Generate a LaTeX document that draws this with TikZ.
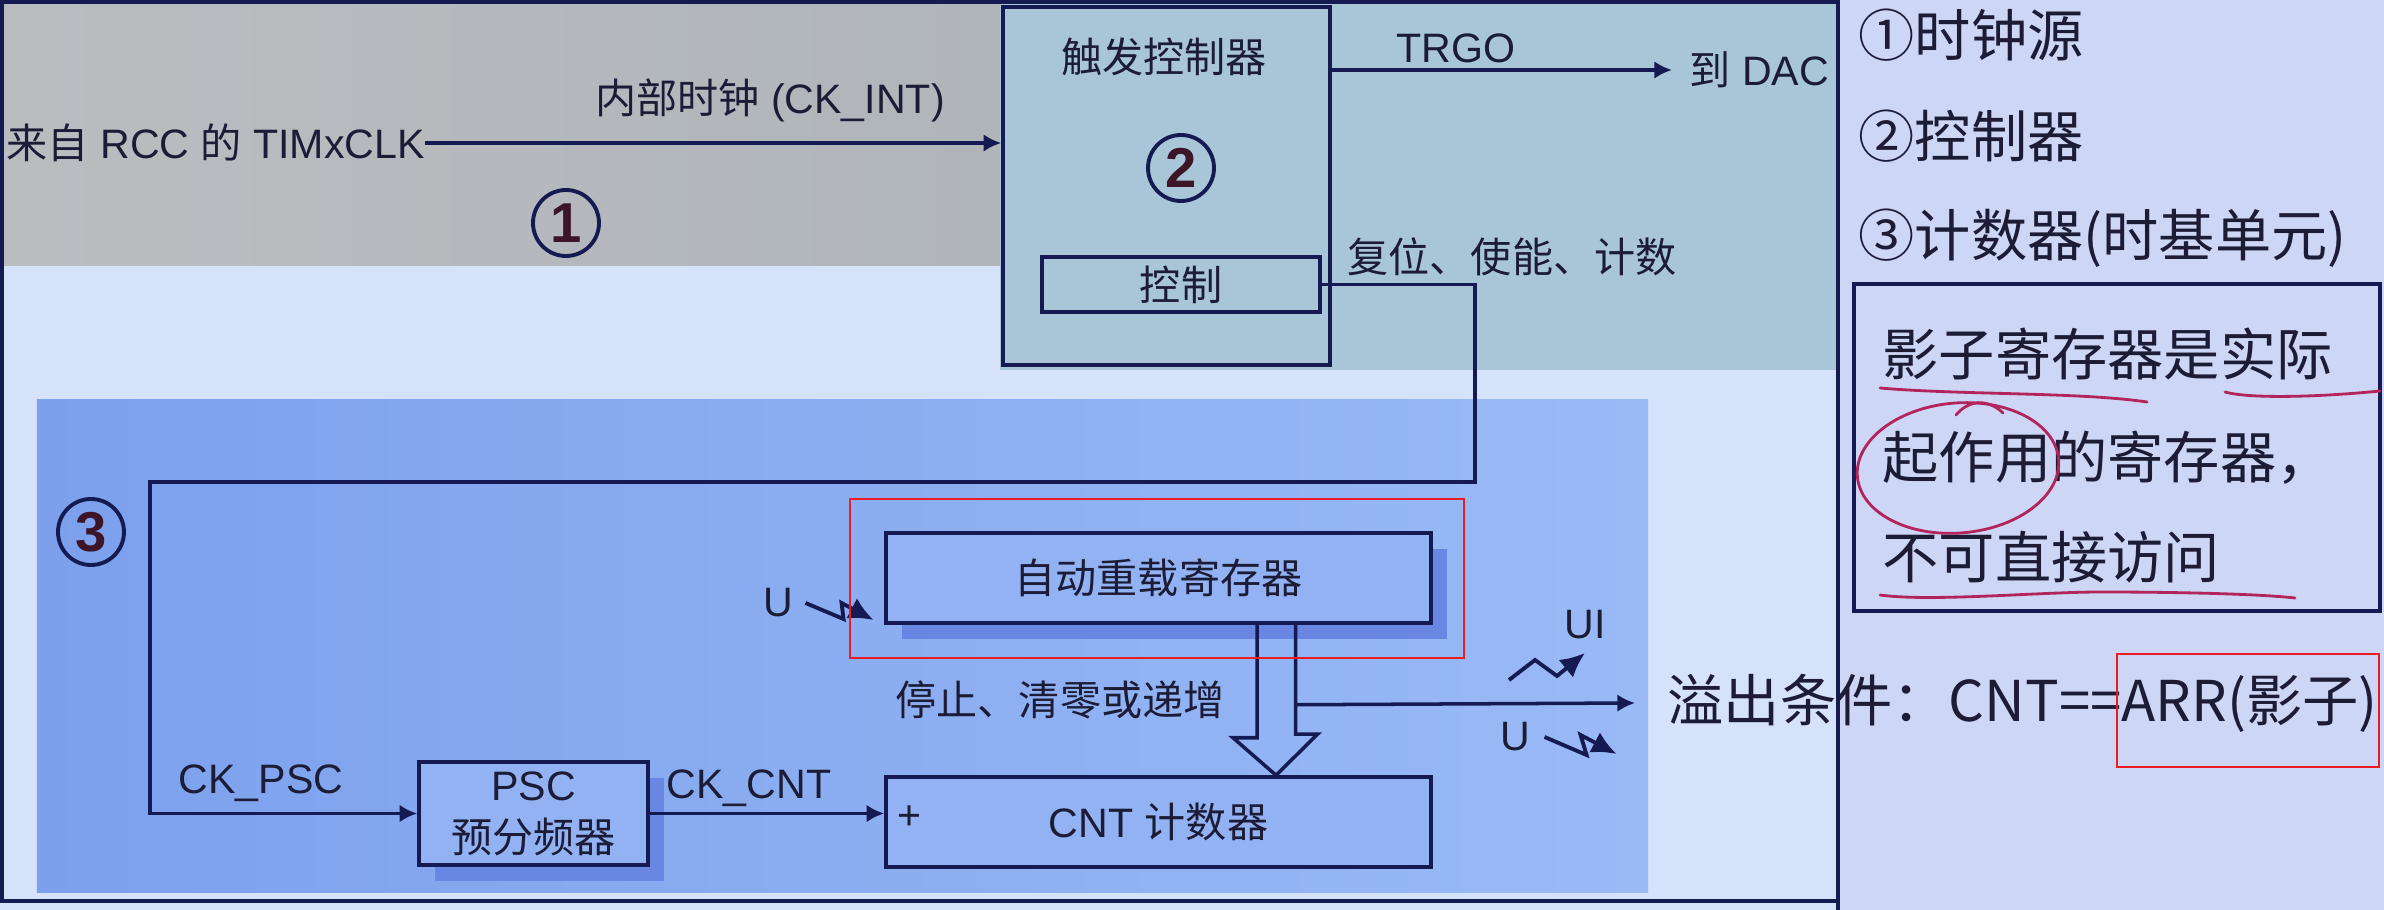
\documentclass[tikz,border=0pt]{standalone}
\usepackage{fontspec}
\setmainfont{Liberation Sans}
\newfontfamily\cjk{Noto Sans CJK SC}
\usetikzlibrary{arrows.meta,shadows}

\definecolor{linec}{RGB}{22,26,82}
\definecolor{txtc}{RGB}{28,28,55}
\definecolor{numtc}{RGB}{60,22,40}
\definecolor{grayL}{RGB}{186,189,192}
\definecolor{grayR}{RGB}{176,181,186}
\definecolor{tealc}{RGB}{168,198,216}
\definecolor{paleb}{RGB}{214,226,250}
\definecolor{lavc}{RGB}{206,214,245}
\definecolor{panelL}{RGB}{124,160,236}
\definecolor{panelR}{RGB}{154,186,246}
\definecolor{boxc}{RGB}{146,178,243}
\definecolor{shadc}{RGB}{104,134,226}
\definecolor{redc}{RGB}{236,28,36}
\definecolor{penc}{RGB}{178,36,92}

\begin{document}
\begin{tikzpicture}[
  >={Latex[length=5pt,width=5pt]},
  lbl/.style={font=\fontsize{11.7}{14.8}\selectfont, text=txtc, inner sep=0pt},
  blk/.style={draw=linec, line width=1pt, fill=boxc, inner sep=0pt},
  shd/.style={drop shadow={shadow xshift=0.16cm, shadow yshift=-0.16cm, fill=shadc, opacity=1}},
  numc/.style={circle, draw=linec, line width=1.1pt, minimum size=0.66cm, inner sep=0pt,
    text=numtc, font=\fontsize{16}{16}\selectfont\bfseries},
  wire/.style={draw=linec, line width=1pt},
  zap/.style={draw=linec, line width=1.1pt, line join=miter, -{Latex[length=7pt,width=6.5pt]}},
  note/.style={font=\cjk\fontsize{16}{18}\selectfont, text=txtc, inner sep=0pt, anchor=west},
  redbox/.style={draw=redc, line width=0.7pt},
  pen/.style={draw=penc, line width=0.8pt, line cap=round}
]
  \useasboundingbox (0,0) rectangle (23.84,-9.10);

  % backgrounds
  \fill[paleb] (0,0) rectangle (18.38,-9.10);
  \fill[lavc] (18.38,0) rectangle (23.84,-9.10);
  \shade[left color=grayL, right color=grayR] (0.02,-0.03) rectangle (10.00,-2.66);
  \fill[tealc] (10.00,-0.03) rectangle (18.36,-3.70);
  \shade[left color=panelL, right color=panelR] (0.37,-4.00) rectangle (16.48,-8.93);
  \draw[linec, line width=1.4pt] (0.02,-0.02) rectangle (18.38,-9.01);

  % section 1: clock source
  \node[lbl, anchor=west] (src) at (0.06,-1.43) {{\cjk 来自} RCC {\cjk 的} TIMxCLK};
  \node[lbl] (intl) at (7.70,-1.00) {{\cjk 内部时钟} (CK\_INT)};
  \node[numc] (n1) at (5.66,-2.23) {1};

  % section 2: trigger controller
  \node[blk, fill=tealc, minimum width=3.27cm, minimum height=3.58cm] (trig) at (11.665,-1.86) {};
  \node[lbl] (trigname) at (11.64,-0.57) {\cjk 触发控制器};
  \node[numc] (n2) at (11.81,-1.68) {2};
  \node[blk, lbl, fill=tealc, minimum width=2.78cm, minimum height=0.55cm] (ctrl) at (11.81,-2.845) {\cjk 控制};
  \node[lbl, anchor=west] (dac) at (16.89,-0.70) {{\cjk 到} DAC};
  \node[lbl] (trgo) at (14.56,-0.48) {TRGO};
  \node[lbl] (rst) at (15.12,-2.57) {\cjk 复位、使能、计数};

  \draw[wire,->] (src.east) -- (src.east -| trig.west);
  \draw[wire,->] (trig.east |- dac.west) -- ([xshift=-0.17cm]dac.west);

  % section 3: time base unit
  \node[numc] (n3) at (0.91,-5.32) {3};
  \node[blk, shd, minimum width=5.45cm, minimum height=0.90cm, lbl] (arr) at (11.585,-5.78) {\cjk 自动重载寄存器};
  \node[blk, shd, minimum width=2.29cm, minimum height=1.03cm, lbl, align=center] (psc) at (5.335,-8.135) {PSC\\{\cjk 预分频器}};
  \node[blk, minimum width=5.45cm, minimum height=0.90cm, lbl] (cnt) at (11.585,-8.22) {CNT {\cjk 计数器}};
  \node[lbl] (plus) at (9.09,-8.18) {+};
  \node[lbl] (ckpsc) at (2.61,-7.83) {CK\_PSC};
  \node[lbl] (ckcnt) at (7.49,-7.88) {CK\_CNT};
  \node[lbl] (stopl) at (10.60,-7.00) {\cjk 停止、清零或递增};
  \node[lbl] (ua) at (7.78,-6.03) {U};
  \node[lbl] (uil) at (15.85,-6.25) {UI};
  \node[lbl] (ub) at (15.15,-7.37) {U};

  \coordinate (bendA) at (14.75,-4.82);
  \coordinate (bendB) at (1.50,-4.82);
  \coordinate (ovf) at (16.35,-7.03);
  \draw[wire,->] (ctrl.east) -| (bendA) -- (bendB) |- (psc.west);
  \draw[wire,->] (psc.east) -- (psc.east -| cnt.west);
  \draw[wire, line join=miter] ([xshift=0.985cm]arr.south) |- ++(-0.24,-1.13)
    -- ([xshift=1.175cm]cnt.north) -- ++(0.415,0.41) -- ++(-0.22,0) |- ([xshift=1.365cm]arr.south);
  \draw[wire,->] ([xshift=1.365cm,yshift=-0.80cm]arr.south) -- (ovf);

  % update / interrupt events
  \draw[zap] ([xshift=0.12cm]ua.east) -- ++(0.38,-0.16) -- ++(-0.02,0.16) -- ++(0.32,-0.17);
  \draw[zap] (15.09,-6.80) -- (15.35,-6.60) -- (15.57,-6.76) -- (15.85,-6.53);
  \draw[zap] ([xshift=0.14cm]ub.east) -- ++(0.42,-0.18) -- ++(-0.06,0.20) -- ++(0.36,-0.19);

  % right side notes
  \draw[linec, line width=1.4pt] (18.38,0) -- (18.38,-9.10);
  \node[note] (r1) at (18.58,-0.35) {①时钟源};
  \node[note] (r2) at (18.58,-1.36) {②控制器};
  \node[note] (r3) at (18.58,-2.38) {③计数器(时基单元)};
  \node[draw=linec, line width=1.3pt, minimum width=5.26cm, minimum height=3.27cm] (nbox) at (21.17,-4.475) {};
  \node[note] (s1) at (18.82,-3.54) {影子寄存器是实际};
  \node[note] (s2) at (18.82,-4.58) {起作用的寄存器，};
  \node[note] (s3) at (18.82,-5.57) {不可直接访问};
  \node[note] (cond) at (16.67,-7.03) {溢出条件：CNT==ARR(影子)};

  % red marks and pen strokes
  \draw[redbox] (8.50,-4.99) rectangle (14.64,-6.58);
  \draw[redbox] (21.17,-6.54) rectangle (23.79,-7.67);
  \draw[pen] (18.80,-3.88) .. controls (19.60,-3.95) and (20.80,-3.92) .. (21.47,-4.02);
  \draw[pen] (22.25,-3.92) .. controls (22.50,-3.99) and (23.20,-3.97) .. (23.80,-3.91);
  \draw[pen, rotate around={5:(19.58,-4.68)}] (19.58,-4.68) ellipse [x radius=1.01, y radius=0.65];
  \draw[pen] (19.56,-4.15) .. controls (19.70,-3.98) and (19.90,-4.00) .. (20.03,-4.13);
  \draw[pen] (18.80,-5.95) .. controls (19.30,-6.02) and (20.40,-5.92) .. (21.00,-5.92)
    .. controls (21.80,-5.92) and (22.60,-5.94) .. (22.95,-5.98);

\end{tikzpicture}
\end{document}
